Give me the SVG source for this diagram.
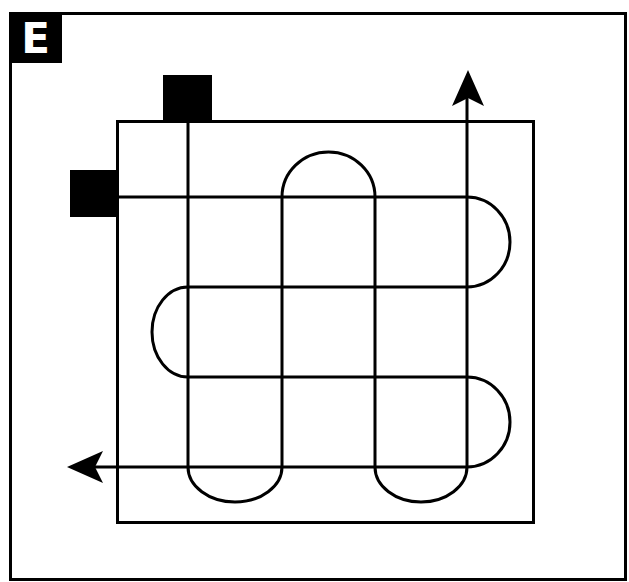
<svg xmlns="http://www.w3.org/2000/svg" width="629" height="582" viewBox="0 0 629 582">
<style>
.ln{fill:none;stroke:#000;stroke-width:3;}
.blk{fill:#000;}
</style>
<rect width="629" height="582" fill="#fff"/>
<g id="frame">
<rect class="ln" x="10.5" y="13.5" width="615" height="566"/>
</g>
<g id="label-e">
<rect class="blk" x="9" y="12" width="53" height="51"/>
<text x="35.5" y="53" text-anchor="middle" font-family="DejaVu Sans, sans-serif" font-weight="bold" font-size="42" fill="#fff">E</text>
</g>
<g id="inner-box">
<rect class="ln" x="117.5" y="121.5" width="416" height="401"/>
</g>
<g id="start-top">
<rect class="blk" x="163" y="75" width="49" height="47"/>
</g>
<g id="start-left">
<rect class="blk" x="70" y="170" width="48" height="47"/>
</g>
<g id="connectors">
<path class="ln" d="M118,197 H467 A43,45 0 0 1 467,287 H188 A36,45 0 0 0 188,377 H467 A43,45 0 0 1 467,467 H90"/>
<path class="ln" d="M188,122 V467 A47,35 0 0 0 282,467 V197 A46.5,45 0 0 1 375,197 V467 A46,35 0 0 0 467,467 V95"/>
<path class="blk" d="M468,70 L484,106 L468,98 L452,106 Z"/>
<path class="blk" d="M67,467 L103,451 L95,467 L103,483 Z"/>
</g>
</svg>
